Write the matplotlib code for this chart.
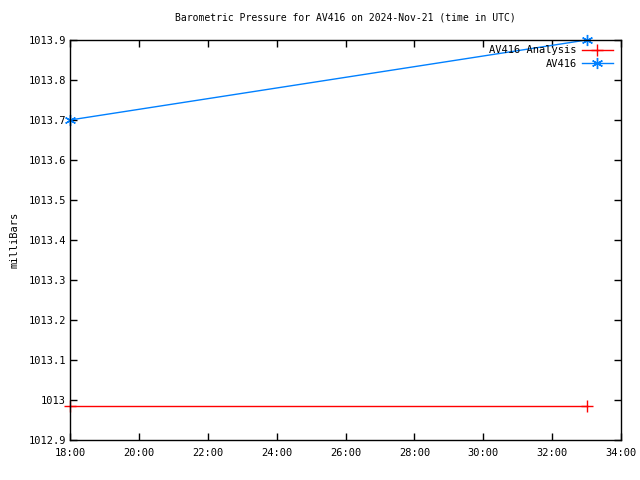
import numpy as np
import matplotlib
matplotlib.use("Agg")
import matplotlib.pyplot as plt
from matplotlib.ticker import FuncFormatter

# hours since start of 2024-Nov-21 (UTC)
analysis_hours = [18, 33]
analysis_mb = [1012.985, 1012.985]
obs_hours = [18, 33]
obs_mb = [1013.7, 1013.9]

plt.rcParams["font.family"] = "DejaVu Sans Mono"
plt.rcParams["font.size"] = 7

fig = plt.figure(figsize=(6.4, 4.8), dpi=100)
ax = fig.add_axes([70 / 640, 40 / 480, 551 / 640, 400 / 480])

ax.plot(analysis_hours, analysis_mb, color="#ff0000", lw=1, marker="+",
        ms=9, mew=1, label="AV416 Analysis", clip_on=False)
ax.plot(obs_hours, obs_mb, color="#0080ff", lw=1, marker=(6, 2, 0),
        ms=8, mew=1, label="AV416", clip_on=False)

ax.set_xlim(18, 34)
ax.set_ylim(1012.9, 1013.9)
ax.set_xticks(np.arange(18, 35, 2))
ax.set_yticks(np.round(np.arange(1012.9, 1013.95, 0.1), 1))
ax.xaxis.set_major_formatter(FuncFormatter(lambda v, p: f"{int(v):02d}:00"))
ax.yaxis.set_major_formatter(FuncFormatter(lambda v, p: f"{v:g}"))
ax.tick_params(direction="in", length=5, width=1, top=True, right=True,
               labelsize=7.5)
ax.tick_params(axis="y", pad=3)
ax.tick_params(axis="x", pad=6)
for s in ax.spines.values():
    s.set_linewidth(1)

ax.set_ylabel("milliBars", fontsize=7.5, labelpad=6)
ax.set_title("Barometric Pressure for AV416 on 2024-Nov-21 (time in UTC)",
             fontsize=7, pad=14)

ax.legend(loc="upper right", bbox_to_anchor=(0.995, 1.0), frameon=False,
          markerfirst=False, handlelength=3.0, borderaxespad=0.1,
          labelspacing=0.35, handletextpad=0.5, fontsize=7.5)

fig.savefig("out.png", dpi=100)
